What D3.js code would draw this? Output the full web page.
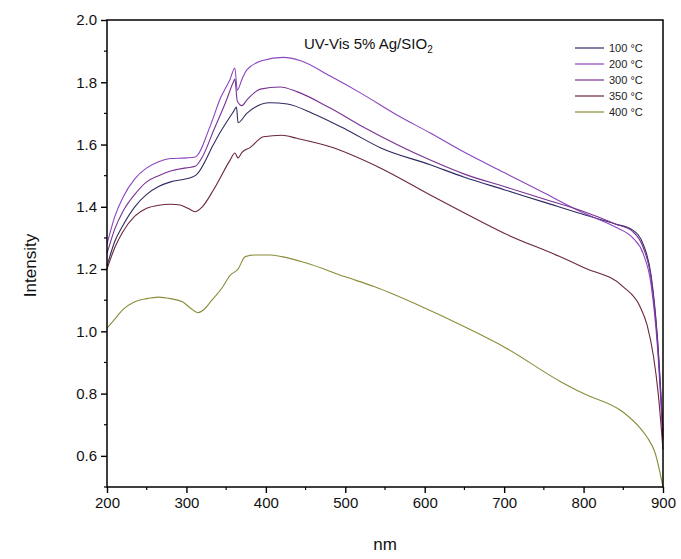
<!DOCTYPE html>
<html>
<head>
<meta charset="utf-8">
<script src="https://cdn.jsdelivr.net/npm/d3@7"></script>
<style>
  body { margin: 0; background: #fff; }
  text { font-family: "Liberation Sans", Arial, sans-serif; }
</style>
</head>
<body>
<script>
// series labels and colours
var labels = ["100 °C", "200 °C", "300 °C", "350 °C", "400 °C"];
var colors = ["#2f2a62", "#8a44c0", "#7a3292", "#6a2838", "#8c8c3a"];

// [nm, intensity]
var s100 = [[200,1.21],[210,1.29],[220,1.34],[235,1.40],[250,1.44],[265,1.465],[280,1.48],[300,1.49],[311,1.50],[315,1.51],[334,1.60],[342,1.637],[359,1.705],[363,1.72],[365,1.67],[376,1.70],[405,1.734],[427,1.73],[459,1.70],[502,1.647],[544,1.59],[607,1.535],[650,1.495],[700,1.455],[750,1.415],[800,1.375],[840,1.345],[862,1.325],[875,1.28],[885,1.18],[893,0.98],[900,0.68]];
var s200 = [[200,1.28],[210,1.37],[220,1.43],[235,1.49],[250,1.525],[265,1.545],[280,1.555],[300,1.557],[311,1.56],[330,1.66],[343,1.75],[355,1.81],[361,1.846],[364,1.775],[370,1.81],[376,1.84],[396,1.87],[422,1.88],[443,1.87],[481,1.82],[519,1.766],[565,1.695],[607,1.637],[650,1.575],[700,1.51],[750,1.445],[800,1.38],[840,1.335],[862,1.30],[875,1.25],[885,1.15],[893,0.95],[900,0.65]];
var s300 = [[200,1.25],[210,1.33],[220,1.385],[235,1.44],[250,1.48],[265,1.50],[280,1.515],[300,1.525],[311,1.53],[320,1.56],[335,1.65],[350,1.74],[359,1.80],[361,1.81],[364,1.74],[370,1.725],[376,1.743],[393,1.778],[418,1.785],[439,1.77],[481,1.717],[522,1.657],[607,1.55],[650,1.505],[700,1.465],[750,1.425],[800,1.385],[840,1.345],[862,1.32],[875,1.27],[885,1.17],[893,0.97],[900,0.66]];
var s350 = [[200,1.20],[210,1.27],[220,1.32],[235,1.37],[250,1.395],[265,1.405],[280,1.408],[292,1.406],[302,1.395],[311,1.384],[320,1.40],[334,1.454],[355,1.55],[361,1.573],[365,1.557],[370,1.575],[380,1.59],[397,1.625],[420,1.63],[439,1.62],[481,1.593],[544,1.525],[607,1.438],[650,1.38],[700,1.315],[770,1.24],[800,1.205],[850,1.143],[871,1.08],[880,1.02],[888,0.92],[894,0.80],[900,0.62]];
var s400 = [[200,1.01],[210,1.04],[220,1.07],[235,1.095],[250,1.105],[265,1.11],[280,1.105],[295,1.095],[305,1.075],[315,1.06],[322,1.07],[332,1.10],[345,1.14],[355,1.18],[365,1.20],[374,1.24],[385,1.245],[405,1.245],[420,1.24],[450,1.22],[500,1.175],[537,1.143],[600,1.075],[650,1.015],[700,0.95],[770,0.84],[800,0.80],[850,0.74],[871,0.69],[880,0.66],[890,0.61],[900,0.50]];

var xTicks = [200, 300, 400, 500, 600, 700, 800, 900];
var yTicks = [0.6, 0.8, 1.0, 1.2, 1.4, 1.6, 1.8, 2.0];

var series = [s100, s200, s300, s350, s400];

var width = 681, height = 559;
var pLeft = 107, pRight = 663, pTop = 20, pBottom = 487;

var svg = d3.select('body').append('svg')
    .attr('width', width)
    .attr('height', height);

var x = d3.scaleLinear().domain([200, 900]).range([pLeft, pRight]);
var y = d3.scaleLinear().domain([0.5, 2.0]).range([pBottom, pTop]);

// curves
var line = d3.line()
    .x(function(d) { return x(d[0]); })
    .y(function(d) { return y(d[1]); })
    .curve(d3.curveMonotoneX);

svg.append('g').selectAll('path')
    .data(series)
    .enter().append('path')
      .attr('d', line)
      .attr('fill', 'none')
      .attr('stroke', function(d, i) { return colors[i]; })
      .attr('stroke-width', 1.1);

// frame
svg.append('rect')
    .attr('x', pLeft).attr('y', pTop)
    .attr('width', pRight - pLeft).attr('height', pBottom - pTop)
    .attr('fill', 'none').attr('stroke', '#000').attr('stroke-width', 1.5);

// minor ticks
var xMinor = d3.range(250, 900, 100);
var yMinor = [0.5, 0.7, 0.9, 1.1, 1.3, 1.5, 1.7, 1.9];
svg.append('g').selectAll('line').data(xMinor).enter().append('line')
    .attr('x1', function(d) { return x(d); }).attr('x2', function(d) { return x(d); })
    .attr('y1', pBottom).attr('y2', pBottom + 3)
    .attr('stroke', '#000').attr('stroke-width', 1.2);
svg.append('g').selectAll('line').data(yMinor).enter().append('line')
    .attr('y1', function(d) { return y(d); }).attr('y2', function(d) { return y(d); })
    .attr('x1', pLeft - 3).attr('x2', pLeft)
    .attr('stroke', '#000').attr('stroke-width', 1.2);

// axes
var xAxis = d3.axisBottom(x).tickValues(xTicks).tickSize(6).tickPadding(4)
    .tickFormat(d3.format('d'));
var yAxis = d3.axisLeft(y).tickValues(yTicks).tickSize(6).tickPadding(4)
    .tickFormat(d3.format('.1f'));

var gx = svg.append('g').attr('transform', 'translate(0,' + pBottom + ')').call(xAxis);
var gy = svg.append('g').attr('transform', 'translate(' + pLeft + ',0)').call(yAxis);
[gx, gy].forEach(function(g) {
  g.select('.domain').remove();
  g.selectAll('line').attr('stroke', '#000').attr('stroke-width', 1.4);
  g.selectAll('text').attr('font-size', 15).attr('fill', '#111')
    .style('font-family', '"Liberation Sans", Arial, sans-serif');
});

// axis titles
svg.append('text')
    .attr('x', (pLeft + pRight) / 2).attr('y', 550)
    .attr('text-anchor', 'middle').attr('font-size', 17).attr('fill', '#111')
    .text('nm');
svg.append('text')
    .attr('transform', 'translate(36,' + ((pTop + pBottom) / 2 + 12) + ') rotate(-90)')
    .attr('text-anchor', 'middle').attr('font-size', 17).attr('fill', '#111')
    .text('Intensity');

// title
var title = svg.append('text')
    .attr('x', 304).attr('y', 49)
    .attr('font-size', 15).attr('fill', '#111');
title.append('tspan').text('UV-Vis 5% Ag/SIO');
title.append('tspan').attr('font-size', 10).attr('dy', 4).text('2');

// legend
var lg = svg.append('g').selectAll('g')
    .data(labels)
    .enter().append('g')
      .attr('transform', function(d, i) { return 'translate(575,' + (48 + i * 16) + ')'; });
lg.append('line')
    .attr('x1', 0).attr('x2', 29)
    .attr('stroke', function(d, i) { return colors[i]; })
    .attr('stroke-width', 1.2);
lg.append('text')
    .attr('x', 34).attr('y', 4)
    .attr('font-size', 11).attr('fill', '#222')
    .text(function(d) { return d; });
</script>
</body>
</html>
